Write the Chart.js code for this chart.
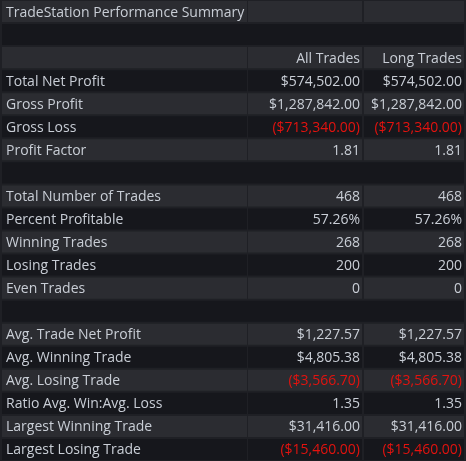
<!DOCTYPE html>
<html lang="en">
<head>
<meta charset="UTF-8">
<title>TradeStation Performance Summary</title>
<script src="https://cdn.jsdelivr.net/npm/chart.js"></script>
<style>
  html, body { margin: 0; padding: 0; background: #1f2025; }
  #wrap { width: 466px; height: 461px; }
</style>
</head>
<body>
<div id="wrap"><canvas id="summary" width="466" height="461"></canvas></div>
<script>
// Table content, one entry per row ('' = spacer row)
const rowLabels = [
  'TradeStation Performance Summary', '', '',
  'Total Net Profit', 'Gross Profit', 'Gross Loss', 'Profit Factor', '',
  'Total Number of Trades', 'Percent Profitable', 'Winning Trades', 'Losing Trades', 'Even Trades', '',
  'Avg. Trade Net Profit', 'Avg. Winning Trade', 'Avg. Losing Trade', 'Ratio Avg. Win:Avg. Loss',
  'Largest Winning Trade', 'Largest Losing Trade'
];
const allTrades = [
  '', null, 'All Trades',
  '$574,502.00', '$1,287,842.00', '($713,340.00)', '1.81', null,
  '468', '57.26%', '268', '200', '0', null,
  '$1,227.57', '$4,805.38', '($3,566.70)', '1.35', '$31,416.00', '($15,460.00)'
];
const longTrades = [
  '', null, 'Long Trades',
  '$574,502.00', '$1,287,842.00', '($713,340.00)', '1.81', null,
  '468', '57.26%', '268', '200', '0', null,
  '$1,227.57', '$4,805.38', '($3,566.70)', '1.35', '$31,416.00', '($15,460.00)'
];

const LIGHT = '#2b2c31', DARK = '#16171c', TEXT = '#c9ced6', RED = '#e3130f';
const COLS = [[2, 247], [248, 362], [364, 464]];
const isSpacer = i => allTrades[i] === null;
const rowColor = rowLabels.map((_, i) => i % 2 === 0 ? LIGHT : DARK);
const cols = [rowLabels, allTrades, longTrades];

function cellData(c) {
  return rowLabels.map((_, i) => {
    if (isSpacer(i)) return c === 0 ? [COLS[0][0], COLS[2][1]] : null;
    return COLS[c];
  });
}

const cellText = {
  id: 'cellText',
  afterDatasetsDraw(chart) {
    const ctx = chart.ctx, y = chart.scales.y, x = chart.scales.x;
    ctx.save();
    ctx.font = '14px "Open Sans", sans-serif';
    ctx.textBaseline = 'middle';
    rowLabels.forEach((lab, i) => {
      if (isSpacer(i)) return;
      const py = y.getPixelForValue(i) + 1;
      cols.forEach((col, c) => {
        const t = col[i];
        if (!t) return;
        if (c === 0) {
          ctx.textAlign = 'left';
          ctx.fillStyle = TEXT;
          ctx.fillText(t, x.getPixelForValue(COLS[0][0]) + 4, py);
        } else {
          ctx.textAlign = 'right';
          ctx.fillStyle = t.startsWith('(') ? RED : TEXT;
          ctx.fillText(t, x.getPixelForValue(COLS[c][1]) - 2, py);
        }
      });
    });
    ctx.restore();
  }
};

new Chart(document.getElementById('summary'), {
  type: 'bar',
  data: {
    labels: rowLabels.map((l, i) => l || ' ' + i),
    datasets: [0, 1, 2].map(c => ({
      data: cellData(c),
      backgroundColor: rowColor,
      borderWidth: 0,
      borderSkipped: false,
      barPercentage: 21 / 23,
      categoryPercentage: 1,
      grouped: false
    }))
  },
  options: {
    indexAxis: 'y',
    responsive: false,
    animation: false,
    layout: { padding: 0 },
    plugins: { legend: { display: false }, tooltip: { enabled: false } },
    scales: {
      x: { type: 'linear', min: 0, max: 466, display: false },
      y: { display: false, offset: true }
    }
  },
  plugins: [cellText]
});
</script>
</body>
</html>
